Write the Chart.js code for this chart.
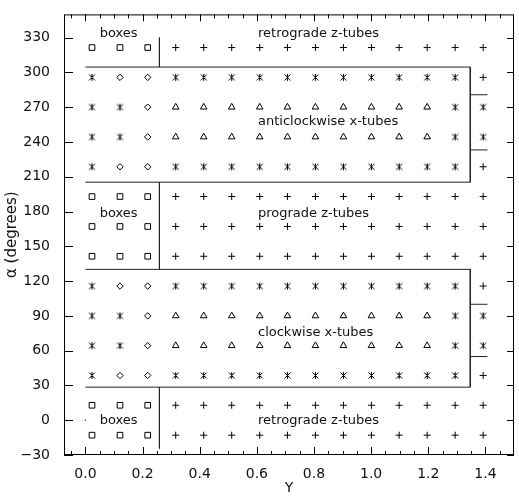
<!DOCTYPE html>
<html>
<head>
<meta charset="utf-8">
<script src="https://cdn.jsdelivr.net/npm/chart.js@4/dist/chart.umd.min.js"></script>
<style>
  html, body { margin: 0; padding: 0; background: #fff; }
  canvas { display: block; }
</style>
</head>
<body>
<canvas id="tubes" width="519" height="497"></canvas>
<script>
// Grid of start positions (columns = Y, rows = alpha in degrees)
const yCols = [0.023, 0.121, 0.218, 0.316, 0.414, 0.512, 0.610, 0.707, 0.805, 0.903, 1.001, 1.098, 1.196, 1.294, 1.392];
const alphaRows = [321.4, 295.7, 270.0, 244.3, 218.6, 192.9, 167.1, 141.4, 115.7, 90.0, 64.3, 38.6, 12.9, -12.9];

// orbit class per cell: s = box, p = z-tube (+), a = asterisk, d = diamond, t = x-tube (triangle)
const orbitRows = [
  'ssspppppppppppp',
  'addaaaaaaaaaaap',
  'aadttttttttttaa',
  'aadttttttttttaa',
  'addaaaaaaaaaaap',
  'ssspppppppppppp',
  'ssspppppppppppp',
  'ssspppppppppppp',
  'addaaaaaaaaaaap',
  'aadttttttttttaa',
  'aadttttttttttaa',
  'addaaaaaaaaaaap',
  'ssspppppppppppp',
  'ssspppppppppppp'
];

// tick labels
const xTicks = [0.0, 0.2, 0.4, 0.6, 0.8, 1.0, 1.2, 1.4];
const yTicks = [-30, 0, 30, 60, 90, 120, 150, 180, 210, 240, 270, 300, 330];

// region boundaries (Y, alpha)
const upperBox = [[0, 304.6], [1.347, 304.6], [1.347, 205.3], [0, 205.3]];
const lowerBox = [[0, 130.1], [1.347, 130.1], [1.347, 28.5], [0, 28.5]];
const dividers = [
  [[0.259, 330.0], [0.259, 304.6]],
  [[0.259, 205.3], [0.259, 130.1]],
  [[0.259, 28.5], [0.259, -24.4]],
  [[1.347, 280.7], [1.407, 280.7]],
  [[1.347, 233.1], [1.407, 233.1]],
  [[1.347, 100.0], [1.407, 100.0]],
  [[1.347, 54.9], [1.407, 54.9]]
];

// region labels
const regionLabels = [
  { text: 'boxes', x: 0.05, y: 333.0 },
  { text: 'retrograde z-tubes', x: 0.604, y: 333.0 },
  { text: 'anticlockwise x-tubes', x: 0.604, y: 257.3 },
  { text: 'boxes', x: 0.05, y: 178.0 },
  { text: 'prograde z-tubes', x: 0.604, y: 178.0 },
  { text: 'clockwise x-tubes', x: 0.604, y: 75.2 },
  { text: 'boxes', x: 0.05, y: 0.0 },
  { text: 'retrograde z-tubes', x: 0.604, y: 0.0 }
];
const originDot = [{ x: 0, y: 0 }];

const FONT = "'DejaVu Sans', 'Liberation Sans', sans-serif";
const INK = '#111';

// six-armed asterisk marker
function makeAsterisk() {
  const c = document.createElement('canvas');
  c.width = 9; c.height = 9;
  const g = c.getContext('2d');
  g.strokeStyle = '#000';
  g.lineWidth = 1;
  g.beginPath();
  g.moveTo(4.5, 1); g.lineTo(4.5, 8);
  g.moveTo(1.5, 1.5); g.lineTo(7.5, 7.5);
  g.moveTo(7.5, 1.5); g.lineTo(1.5, 7.5);
  g.stroke();
  return c;
}

const markerStyles = {
  s: { style: 'rect', radius: 4.0 },
  p: { style: 'cross', radius: 3.5 },
  a: { style: makeAsterisk(), radius: 4 },
  d: { style: 'rectRot', radius: 3.2 },
  t: { style: 'triangle', radius: 3.8 }
};

// collect points per marker
const pointSets = {};
orbitRows.forEach((row, r) => {
  row.split('').forEach((code, c) => {
    (pointSets[code] = pointSets[code] || []).push({ x: yCols[c], y: alphaRows[r] });
  });
});

const datasets = [];
Object.keys(pointSets).forEach(code => {
  const m = markerStyles[code];
  datasets.push({
    data: pointSets[code],
    pointStyle: m.style,
    pointRadius: m.radius,
    pointBorderWidth: 1,
    pointBorderColor: '#000',
    pointBackgroundColor: 'rgba(0,0,0,0)',
    showLine: false
  });
});

function lineSet(pts) {
  return {
    data: pts.map(p => ({ x: p[0], y: p[1] })),
    showLine: true,
    borderColor: '#222',
    borderWidth: 1,
    pointRadius: 0,
    fill: false
  };
}
datasets.push(lineSet(upperBox));
datasets.push(lineSet(lowerBox));
dividers.forEach(d => datasets.push(lineSet(d)));
datasets.push({
  data: originDot,
  pointStyle: 'circle',
  pointRadius: 0.8,
  pointBorderWidth: 0,
  pointBackgroundColor: '#333',
  showLine: false
});

// frame, inward tick marks and region labels
const framePlugin = {
  id: 'framePlugin',
  afterDatasetsDraw(chart) {
    const { ctx, chartArea: a, scales: { x, y } } = chart;
    ctx.save();
    ctx.strokeStyle = '#000';
    ctx.lineWidth = 1;
    ctx.strokeRect(a.left + 0.5, a.top + 0.5, a.right - a.left - 1, a.bottom - a.top - 1);

    ctx.beginPath();
    for (let i = -1; i <= 30; i++) {
      const v = i * 0.05;
      if (v <= x.min || v >= x.max) continue;
      const px = Math.round(x.getPixelForValue(v)) + 0.5;
      const major = xTicks.some(t => Math.abs(t - v) < 1e-6);
      ctx.moveTo(px, a.bottom);
      ctx.lineTo(px, a.bottom - (major ? 8 : 4));
      ctx.moveTo(px, a.top);
      ctx.lineTo(px, a.top + (major ? 7 : 4));
    }
    yTicks.forEach(v => {
      const py = Math.round(y.getPixelForValue(v)) + 0.5;
      ctx.moveTo(a.left, py);
      ctx.lineTo(a.left + 9, py);
      ctx.moveTo(a.right, py);
      ctx.lineTo(a.right - 7, py);
    });
    ctx.stroke();

    ctx.fillStyle = INK;
    ctx.font = '13px ' + FONT;
    ctx.textAlign = 'left';
    ctx.textBaseline = 'middle';
    regionLabels.forEach(l => {
      ctx.fillText(l.text, x.getPixelForValue(l.x), y.getPixelForValue(l.y));
    });
    ctx.restore();
  }
};

new Chart(document.getElementById('tubes'), {
  type: 'scatter',
  data: { datasets },
  options: {
    responsive: false,
    animation: false,
    events: [],
    layout: { padding: { top: 1, right: 2, left: 0, bottom: 0 } },
    plugins: {
      legend: { display: false },
      tooltip: { enabled: false }
    },
    scales: {
      x: {
        type: 'linear',
        min: -0.075,
        max: 1.5,
        afterBuildTicks: s => { s.ticks = xTicks.map(v => ({ value: v })); },
        afterFit: s => { s.height = 42; },
        grid: { display: false },
        border: { display: false },
        ticks: {
          callback: v => Number(v).toFixed(1),
          font: { family: FONT, size: 14 },
          color: INK,
          padding: 3,
          maxRotation: 0,
          autoSkip: false
        },
        title: {
          display: true,
          text: 'Y',
          font: { family: FONT, size: 14 },
          color: INK,
          padding: { top: 0, bottom: 0 }
        }
      },
      y: {
        type: 'linear',
        min: -30,
        max: 350,
        afterBuildTicks: s => { s.ticks = yTicks.map(v => ({ value: v })); },
        afterFit: s => { s.width = 64; },
        grid: { display: false },
        border: { display: false },
        ticks: {
          callback: v => (v < 0 ? '\u2212' + Math.abs(v) : String(v)),
          font: { family: FONT, size: 14 },
          color: INK,
          padding: 6,
          autoSkip: false
        },
        title: {
          display: true,
          text: '\u03b1 (degrees)',
          font: { family: FONT, size: 15 },
          color: INK,
          padding: { top: 3, bottom: 0 }
        }
      }
    }
  },
  plugins: [framePlugin]
});
</script>
</body>
</html>
